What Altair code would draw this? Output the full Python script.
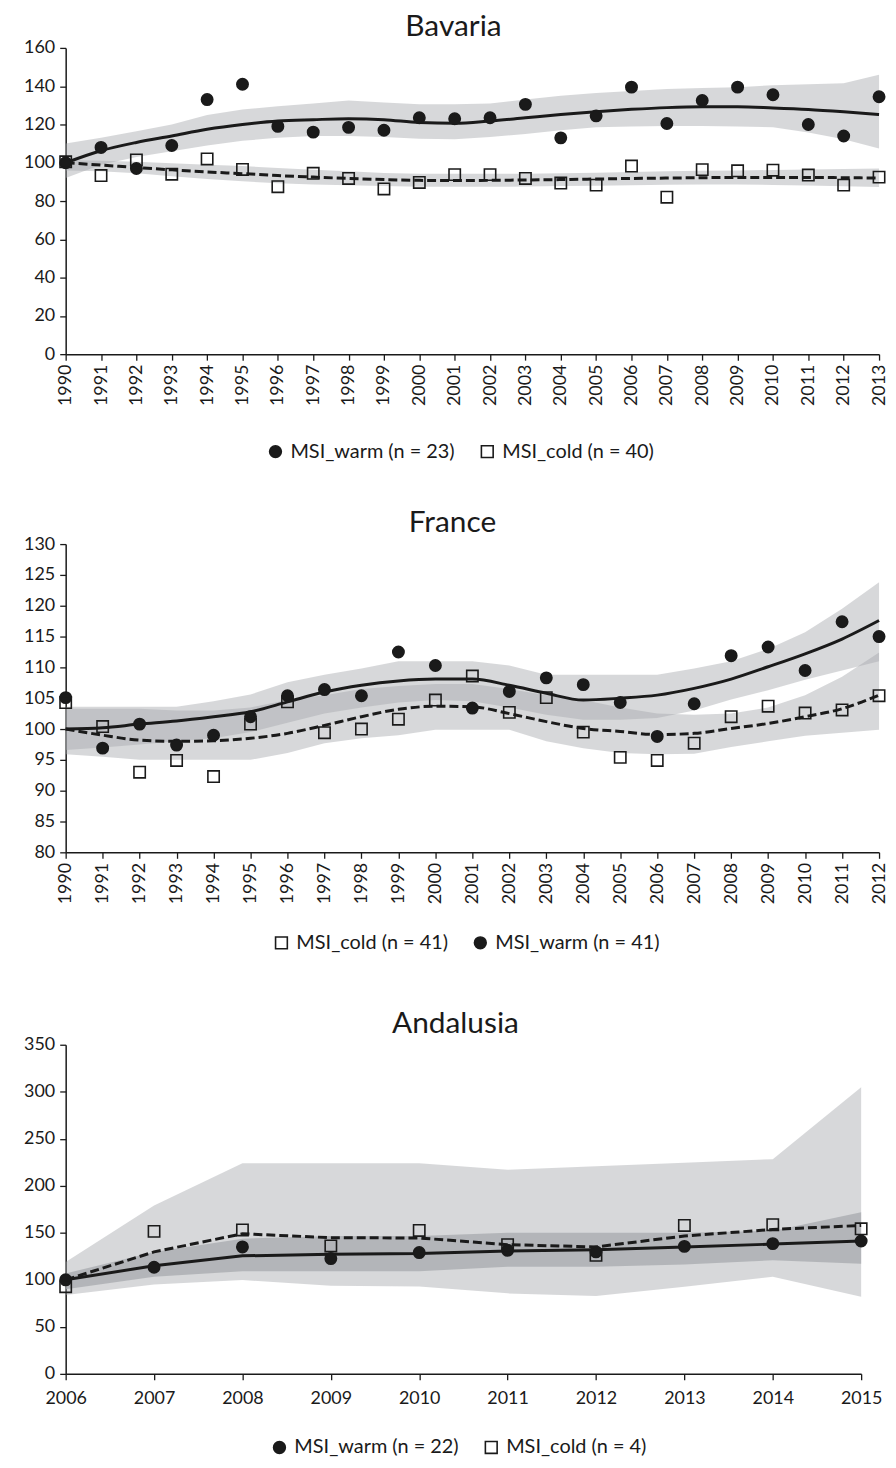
import altair as alt
import pandas as pd

FONT = "Lato"
INK = "#1a1a1a"
BAND = "#a7a9ad"

# ---------------- Bavaria ----------------
bav_years = list(range(1990, 2014))
bav_warm = [100, 108, 97, 109, 133, 141, 119, 116, 118.5, 117, 123.5, 123, 123.5, 130.5,
            113, 124.5, 139.5, 120.5, 132.5, 139.5, 135.5, 120, 114, 134.5]
bav_cold = [100.5, 93.3, 101.5, 94, 102, 96.5, 87.5, 94.5, 91.8, 86.3, 89.7, 93.8, 93.8, 91.8,
            89.4, 88.3, 98.3, 82, 96.4, 95.8, 96.1, 93.6, 88.3, 92.5]
bav_warm_fit = [100, 106.3, 110.6, 114, 117.5, 120, 121.8, 122.5, 123, 122.5, 121, 120.6, 121.8,
                123.5, 125.2, 126.7, 127.9, 128.8, 129.2, 129.2, 128.6, 127.8, 126.6, 125.2]
bav_cold_fit = [100, 98.8, 97.5, 96.3, 95.2, 94.3, 93.3, 92.5, 91.8, 91.2, 90.8, 90.7, 90.8, 91,
                91.2, 91.5, 91.8, 92, 92.2, 92.3, 92.3, 92.3, 92.2, 92]
bav_warm_hi = [110, 113, 116.5, 120, 125, 127.8, 129.5, 131, 132.5, 131.5, 130.5, 130.5, 131, 133,
               135, 136.5, 137.5, 138.5, 139, 139.5, 140.5, 141, 141.5, 146]
bav_warm_lo = [92, 99, 103, 106, 109, 111.5, 113, 114, 114, 113.5, 112.5, 112.3, 113.5, 115,
               117, 118.5, 119, 119.2, 119.2, 119, 118.5, 115.8, 112.3, 107.5]
bav_cold_hi = [101.5, 101, 100.5, 99.8, 99, 98.3, 97.3, 96.3, 95.5, 94.7, 94.3, 94.2, 94.2, 94.3,
               94.5, 94.8, 95.2, 95.5, 95.8, 96, 96.2, 96.5, 96.7, 97]
bav_cold_lo = [96, 95.5, 94.5, 93, 91.5, 90.3, 89.3, 88.7, 88.2, 87.8, 87.5, 87.4, 87.4, 87.6,
               87.8, 88, 88.3, 88.5, 88.6, 88.6, 88.4, 88.1, 87.7, 87.3]

# ---------------- France ----------------
fr_years = list(range(1990, 2013))
fr_warm = [105.1, 96.9, 100.8, 97.4, 99.0, 102.0, 105.4, 106.4, 105.4, 112.5, 110.3, 103.4,
           106.1, 108.3, 107.2, 104.3, 98.8, 104.1, 111.9, 113.3, 109.5, 117.4, 115]
fr_cold = [104.3, 100.4, 93.0, 94.9, 92.3, 100.8, 104.4, 99.4, 100.0, 101.6, 104.7, 108.6,
           102.7, 105.1, 99.5, 95.4, 94.9, 97.7, 102.0, 103.7, 102.6, 103.1, 105.4]
fr_warm_fit = [100, 100.2, 100.8, 101.3, 102, 102.8, 104.4, 106, 107.1, 107.8, 108.1, 108.1,
               107.1, 105.8, 104.7, 105, 105.5, 106.6, 108.1, 110.1, 112.2, 114.6, 117.6]
fr_cold_fit = [100, 99.0, 98.2, 98.0, 98.1, 98.5, 99.3, 100.6, 102.0, 103.2, 103.7, 103.6,
               102.5, 101.2, 100.1, 99.6, 99.1, 99.3, 100.1, 100.9, 102.0, 103.3, 105.5]
fr_warm_hi = [103.6, 103.6, 103.6, 103.6, 104.5, 105.6, 107.6, 108.8, 109.8, 111, 111, 111,
              110.3, 108.8, 108.8, 108.8, 108.8, 109.8, 111, 113, 115.7, 119.5, 123.8]
fr_warm_lo = [96.6, 97, 97.5, 98, 98.5, 99.5, 101, 102.5, 103.5, 104.3, 104.7, 104.5, 103.5,
              102.3, 101.5, 101.5, 101.8, 103, 104.8, 106.3, 108, 109.5, 111]
fr_cold_hi = [103.3, 103.3, 103.3, 103, 103, 103.5, 104.7, 105.5, 106.5, 107, 107.3, 107.3,
              106.5, 105.5, 104.7, 103.5, 102.5, 102.3, 102.5, 103.5, 105.5, 108.5, 112.4]
fr_cold_lo = [95.9, 95.5, 95, 95, 95, 95, 96.1, 97.7, 98.5, 99, 99.9, 99.9, 99.9, 98, 96.9,
              96.1, 95.9, 96, 97.1, 98, 98.9, 99.4, 99.9]

# ---------------- Andalusia ----------------
an_years = list(range(2006, 2016))
an_warm = [100, 113.4, 135, 122.6, 129, 131.4, 129.7, 135.6, 138.5, 141.3]
an_cold = [92.7, 151.5, 153, 136, 152.5, 137.4, 126, 157.8, 158.6, 154.3]
an_warm_fit = [100, 115, 125.5, 127.2, 127.9, 130.7, 132, 135, 138, 141.3]
an_cold_fit = [100, 129.7, 149, 144.8, 144.5, 137.4, 135, 146.6, 153.6, 157.8]
an_warm_hi = [106.8, 129.7, 143.8, 146.6, 146.6, 150, 150, 150, 152, 172]
an_warm_lo = [90, 103.3, 109.2, 109.2, 109.2, 113.8, 113.8, 116.3, 120.8, 117]
an_cold_hi = [119, 179, 224, 224, 224, 217, 220.8, 224.5, 228.3, 304.8]
an_cold_lo = [83.8, 95, 99.7, 93.8, 93, 85.6, 82.8, 92.7, 103.3, 82.1]


def panel(title, years, warm, cold, warm_fit, cold_fit, warm_lo, warm_hi, cold_lo, cold_hi,
          warm_label, cold_label, warm_first, ydom, ystep, width, height, xangle, xpad, interp,
          warm_band_opacity, legend_x, legend_y, title_dx):
    wide = pd.DataFrame({
        "year": years, "warm_fit": warm_fit, "cold_fit": cold_fit,
        "warm_lo": warm_lo, "warm_hi": warm_hi, "cold_lo": cold_lo, "cold_hi": cold_hi,
    })
    n = len(years)
    long = pd.DataFrame({
        "year": years + years,
        "value": warm + cold,
        "series": [warm_label] * n + [cold_label] * n,
    })
    if warm_first:
        order = [warm_label, cold_label]
        shapes = ["circle", "square"]
        fills = [INK, "transparent"]
    else:
        order = [cold_label, warm_label]
        shapes = ["square", "circle"]
        fills = ["transparent", INK]

    xaxis = alt.Axis(values=years, format="d", labelAngle=xangle, title=None,
                     labelPadding=xpad, tickSize=6, labelFlush=False)
    x = alt.X("year:Q", scale=alt.Scale(domain=[years[0], years[-1]], nice=False, zero=False),
              axis=xaxis)
    yvals = list(range(ydom[0], ydom[1] + 1, ystep))
    yscale = alt.Scale(domain=ydom, nice=False, zero=False)
    yaxis = alt.Axis(values=yvals, title=None, labelPadding=5, tickSize=6, labelFlush=False)

    def Y(field):
        return alt.Y(field, scale=yscale, axis=yaxis, title=None)

    base = alt.Chart(wide)
    cold_band = base.mark_area(color=BAND, opacity=0.45).encode(
        x=x, y=Y("cold_lo:Q"), y2="cold_hi:Q")
    warm_band = base.mark_area(color=BAND, opacity=warm_band_opacity).encode(
        x=x, y=Y("warm_lo:Q"), y2="warm_hi:Q")
    warm_line = base.mark_line(color=INK, strokeWidth=3, interpolate=interp).encode(
        x=x, y=Y("warm_fit:Q"))
    cold_line = base.mark_line(color=INK, strokeWidth=3, strokeDash=[9, 4],
                               interpolate=interp).encode(x=x, y=Y("cold_fit:Q"))

    legend = alt.Legend(title=None, orient="none", legendX=legend_x, legendY=legend_y,
                        direction="horizontal", columnPadding=22, labelOffset=5,
                        labelFont=FONT, labelFontSize=20, labelColor=INK, labelLimit=400,
                        symbolSize=140, symbolStrokeWidth=1.6, symbolStrokeColor=INK)
    pts = alt.Chart(long).mark_point(filled=True, size=130, opacity=1, strokeWidth=1.6).encode(
        x=x,
        y=Y("value:Q"),
        shape=alt.Shape("series:N", scale=alt.Scale(domain=order, range=shapes), legend=legend),
        fill=alt.Fill("series:N", scale=alt.Scale(domain=order, range=fills), legend=legend),
        stroke=alt.Stroke("series:N", scale=alt.Scale(domain=order, range=[INK, INK]),
                          legend=legend),
    )
    return alt.layer(cold_band, warm_band, warm_line, cold_line, pts).properties(
        width=width, height=height,
        title=alt.TitleParams(text=title, fontSize=30, font=FONT, fontWeight="normal",
                              color=INK, anchor="middle", offset=-3, dx=title_dx),
    )


p1 = panel("Bavaria", bav_years, bav_warm, bav_cold, bav_warm_fit, bav_cold_fit,
           bav_warm_lo, bav_warm_hi, bav_cold_lo, bav_cold_hi,
           "MSI_warm (n = 23)", "MSI_cold (n = 40)", True, [0, 160], 20, 818, 308, 270, 4,
           "monotone", 0.45, 201, 396, -19)
p2 = panel("France", fr_years, fr_warm, fr_cold, fr_warm_fit, fr_cold_fit,
           fr_warm_lo, fr_warm_hi, fr_cold_lo, fr_cold_hi,
           "MSI_warm (n = 41)", "MSI_cold (n = 41)", False, [80, 130], 5, 818, 310, 270, 4,
           "monotone", 0.45, 207, 391, -20)
p3 = panel("Andalusia", an_years, an_warm, an_cold, an_warm_fit, an_cold_fit,
           an_warm_lo, an_warm_hi, an_cold_lo, an_cold_hi,
           "MSI_warm (n = 22)", "MSI_cold (n = 4)", True, [0, 350], 50, 800, 331, 0, 10,
           "linear", 0.75, 205, 395, -8)

RES = dict(x="independent", y="independent", shape="independent", fill="independent",
           stroke="independent")
LRES = dict(shape="independent", fill="independent", stroke="independent")

lower = alt.vconcat(p2, p3, spacing=56.5).resolve_scale(**RES).resolve_legend(**LRES)
chart = alt.vconcat(p1, lower, spacing=47).resolve_scale(**RES).resolve_legend(
    **LRES).properties(
    padding={"left": 15, "top": 0, "right": 0, "bottom": 0}
).configure_view(stroke=None).configure_axis(
    grid=False, domainColor=INK, domainWidth=1.5, tickColor=INK, tickWidth=1.3,
    labelFont=FONT, labelFontSize=18, labelColor=INK,
)

chart.save("out.html", embed_options={"renderer": "svg", "actions": False})
